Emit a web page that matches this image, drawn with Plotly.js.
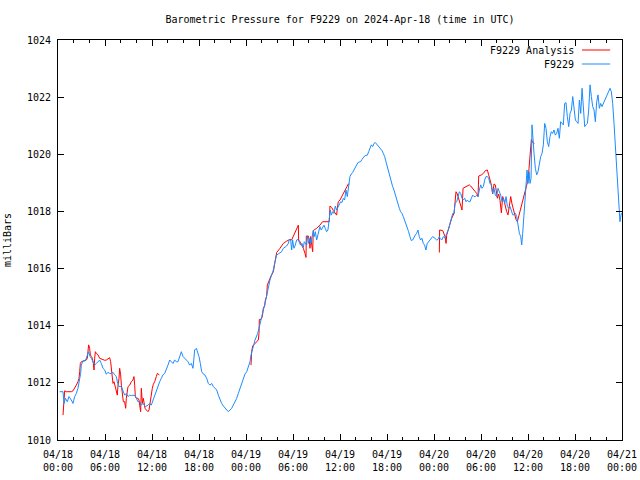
<!DOCTYPE html>
<html>
<head>
<meta charset="utf-8">
<script src="https://cdn.plot.ly/plotly-3.0.1.min.js"></script>
<style>html,body{margin:0;padding:0;background:#fff;}#chart{width:640px;height:480px;}</style>
</head>
<body>
<div id="chart"></div>
<script>
// ---- Data: hours after 2024-04-18 00:00 UTC, pressure in millibars ----
var baseDay = '2024-04-18';

// F9229 Analysis (red), three runs separated by gaps (null)
var analysisHours = [
  0.64,0.85,1.06,1.28,1.49,1.70,1.91,2.13,2.34,2.55,
  2.68,2.77,2.85,2.98,3.40,3.62,3.74,3.83,3.91,4.04,
  4.13,4.26,4.38,4.51,4.60,4.68,4.77,4.89,5.11,5.32,
  5.53,5.74,5.96,6.17,6.38,6.60,6.72,6.81,6.94,7.02,
  7.15,7.32,7.45,7.57,7.66,7.79,7.87,8.00,8.09,8.21,
  8.34,8.51,8.64,8.72,8.85,8.94,9.15,9.36,9.57,9.70,
  9.79,9.87,10.00,10.21,10.34,10.43,10.55,10.64,10.77,10.89,
  10.98,11.11,11.28,11.49,11.62,11.70,11.83,11.91,12.04,12.17,
  12.34,12.55,12.68,12.94,
  null,
  24.64,24.72,24.85,25.15,25.57,25.66,25.70,25.91,26.09,26.21,
  26.38,26.47,26.64,26.72,26.94,27.19,27.49,27.70,27.91,28.34,
  28.76,29.19,29.61,29.83,30.04,30.25,30.46,30.68,30.72,30.89,
  31.10,31.32,31.53,31.66,31.70,31.95,32.08,32.17,32.25,32.38,
  32.51,32.59,33.02,33.44,33.78,34.08,34.63,34.72,34.93,35.15,
  35.40,35.57,35.66,35.78,36.00,36.21,36.42,36.63,36.85,37.06,
  37.19,
  null,
  48.68,48.72,49.11,49.28,49.41,49.54,49.62,49.83,50.05,50.26,
  50.56,50.68,50.81,50.98,51.15,51.32,51.45,51.58,51.71,51.96,
  52.26,52.51,52.68,52.94,53.20,53.45,53.62,53.71,54.05,54.30,
  54.56,54.81,54.98,55.15,55.32,55.49,55.66,55.83,55.91,56.09,
  56.26,56.43,56.60,56.77,56.94,57.11,57.28,57.45,57.62,57.79,
  57.96,58.13,58.30,58.47,58.64,58.81,58.98,59.15,59.32,59.49,
  59.66,59.83,60.00,60.13,60.26,60.34,60.43,60.60,60.81
];
var analysisPressure = [
  1010.87,1011.72,1011.69,1011.69,1011.67,1011.69,1011.72,1011.81,1011.92,1012.04,
  1012.16,1012.39,1012.68,1012.74,1012.77,1012.80,1012.86,1013.15,1013.33,1013.21,
  1012.98,1012.92,1012.86,1012.68,1012.45,1012.86,1013.09,1013.03,1012.98,1012.86,
  1012.84,1012.80,1012.79,1012.80,1012.84,1012.88,1012.74,1012.51,1012.22,1011.98,
  1012.04,1011.81,1011.69,1011.57,1011.92,1012.16,1012.51,1012.28,1011.92,1011.57,
  1011.34,1011.34,1011.11,1011.46,1011.69,1011.87,1011.92,1012.04,1012.10,1012.22,
  1011.92,1011.52,1011.46,1011.46,1011.40,1011.22,1010.99,1011.81,1011.28,1011.46,
  1011.22,1011.11,1011.05,1010.99,1011.05,1011.22,1011.46,1011.63,1011.81,1011.95,
  1012.04,1012.22,1012.33,1012.28,
  null,
  1012.62,1013.09,1013.29,1013.38,1013.50,1013.73,1014.22,1014.22,1014.32,1014.61,
  1014.69,1014.90,1015.04,1015.42,1015.58,1015.74,1015.89,1016.30,1016.56,1016.71,
  1016.88,1016.96,1017.02,1017.00,1017.14,1017.29,1017.41,1017.52,1017.00,1016.94,
  1016.82,1016.71,1016.53,1016.39,1017.14,1017.14,1017.00,1016.71,1017.12,1016.88,
  1016.59,1017.33,1017.41,1017.52,1017.64,1017.64,1017.64,1018.19,1018.14,1018.03,
  1017.93,1017.87,1018.11,1018.34,1018.40,1018.52,1018.61,1018.75,1018.89,1018.96,
  1018.96,
  null,
  1016.56,1017.35,1017.33,1017.17,1017.12,1016.88,1017.17,1017.37,1017.56,1017.76,
  1017.93,1018.28,1018.69,1018.61,1018.46,1018.28,1018.22,1018.05,1018.81,1018.84,
  1018.89,1018.93,1018.89,1018.81,1018.73,1018.63,1018.52,1019.24,1019.28,1019.33,
  1019.43,1019.45,1019.28,1019.10,1018.93,1018.61,1018.96,1018.93,1018.73,1018.46,
  1018.61,1018.38,1017.95,1018.52,1018.38,1018.17,1017.99,1017.88,1018.22,1018.52,
  1018.26,1018.05,1017.84,1017.72,1017.64,1017.82,1017.99,1018.17,1018.34,1018.54,
  1018.73,1018.93,1019.10,1019.51,1019.86,1020.21,1020.52,1020.41,1020.38
];

// F9229 station (blue)
var stationHours = [
  0.21,0.64,0.77,0.94,1.19,1.40,1.70,1.91,2.13,2.34,
  2.55,2.77,2.89,2.98,3.19,3.49,3.74,3.91,4.09,4.26,
  4.47,4.68,4.89,5.11,5.32,5.53,5.74,5.96,6.17,6.38,
  6.60,6.81,7.02,7.23,7.45,7.57,7.79,8.09,8.30,8.51,
  8.72,8.94,9.15,9.36,9.57,9.87,10.00,10.21,10.43,10.64,
  10.85,11.15,11.49,11.70,11.91,12.13,12.34,12.55,12.77,12.98,
  13.19,13.40,13.62,13.83,14.04,14.26,14.47,14.68,14.89,15.11,
  15.32,15.53,15.74,15.96,16.17,16.38,16.60,16.81,17.02,17.23,
  17.45,17.66,
  17.83,18.00,18.17,18.34,18.55,18.77,18.98,19.19,19.40,19.62,
  19.83,20.04,20.26,20.47,20.68,20.89,21.11,21.32,21.53,21.74,
  21.96,22.17,22.38,22.60,22.81,23.02,23.23,23.45,23.66,23.87,
  24.09,24.30,24.51,24.64,24.81,24.98,25.15,25.36,25.49,25.66,
  25.83,26.00,26.21,26.43,26.64,26.85,27.06,27.28,27.49,27.70,
  27.91,28.12,28.34,28.55,28.76,28.97,29.19,29.40,29.53,29.70,
  29.83,29.95,30.12,30.29,30.46,30.63,30.81,30.97,31.15,31.32,
  31.44,31.57,31.74,31.87,32.00,32.17,32.29,32.42,32.59,32.72,
  32.85,33.02,33.15,33.27,33.44,33.61,33.78,33.95,34.12,34.29,
  34.46,34.63,34.76,34.89,35.06,35.23,35.40,35.57,35.74,35.91,
  36.08,36.25,36.42,36.59,36.76,36.93,37.10,37.27,37.44,37.61,
  37.78,37.95,38.12,38.29,38.46,38.63,38.80,38.97,39.14,39.31,
  39.49,39.66,39.83,40.00,40.17,40.34,40.51,40.68,40.85,41.02,
  41.19,41.36,41.53,41.70,41.87,42.04,42.21,42.38,42.55,42.72,
  42.89,43.06,43.23,43.40,43.57,43.74,43.91,44.08,44.25,44.42,
  44.59,44.76,44.93,45.10,45.27,45.44,45.61,45.78,45.95,46.12,
  46.29,46.46,46.63,46.80,46.97,47.14,47.32,47.49,47.66,47.83,
  48.00,48.17,48.34,48.51,48.68,
  48.77,48.98,49.20,49.41,49.62,49.83,50.05,50.26,50.39,50.56,
  50.68,50.90,51.11,51.24,51.41,51.58,51.75,51.92,52.09,52.26,
  52.43,52.60,52.77,52.94,53.11,53.28,53.45,53.62,53.79,53.96,
  54.13,54.30,54.47,54.64,54.81,54.98,55.15,55.32,55.49,55.66,
  55.83,56.00,56.17,56.34,56.51,56.68,56.85,57.03,57.20,57.37,
  57.54,57.71,57.88,58.05,58.22,58.39,58.56,58.73,58.90,59.07,
  59.20,59.32,59.49,59.62,59.75,59.88,60.00,60.13,60.26,60.39,
  60.51,60.64,60.77,60.94,61.11,61.28,61.45,61.62,61.79,61.96,
  62.13,62.30,62.47,62.64,62.81,62.98,63.15,63.32,63.49,63.66,
  63.83,64.00,64.17,64.34,64.51,64.68,64.85,65.02,65.20,65.37,
  65.54,65.71,65.88,66.05,66.22,66.39,66.56,66.73,66.90,67.07,
  67.24,67.41,67.58,67.75,67.92,68.09,68.26,68.43,68.60,68.77,
  68.94,69.11,69.28,69.45,69.62,69.79,69.96,70.13,70.30,70.47,
  70.64,70.81,70.98,71.15,71.32,71.49,71.66,71.74,71.92
];
var stationPressure = [
  1011.69,1011.69,1011.28,1011.46,1011.34,1011.52,1011.40,1011.28,1011.52,1011.63,
  1011.81,1012.10,1012.33,1012.62,1012.77,1012.77,1012.98,1013.09,1012.92,1012.86,
  1012.74,1012.62,1012.68,1012.74,1012.80,1012.68,1012.51,1012.45,1012.30,1012.37,
  1012.33,1012.33,1012.37,1012.28,1012.22,1012.04,1011.87,1011.87,1011.69,1011.57,
  1011.63,1011.52,1011.57,1011.55,1011.57,1011.55,1011.46,1011.34,1011.34,1011.22,
  1011.28,1011.17,1011.22,1011.28,1011.22,1011.40,1011.57,1011.75,1011.92,1012.04,
  1012.16,1012.28,1012.33,1012.45,1012.62,1012.80,1012.74,1012.68,1012.80,1012.74,
  1012.74,1012.92,1013.09,1012.92,1012.86,1012.80,1012.74,1012.62,1012.68,1012.51,
  1013.15,1013.21,
  1013.09,1012.92,1012.68,1012.39,1012.31,1012.27,1012.16,1011.98,1011.92,1011.98,
  1011.87,1011.81,1011.75,1011.57,1011.40,1011.28,1011.19,1011.11,1011.05,1010.99,
  1011.05,1011.11,1011.22,1011.34,1011.46,1011.63,1011.81,1011.98,1012.16,1012.31,
  1012.39,1012.57,1012.74,1012.97,1013.21,1013.32,1013.50,1013.64,1013.73,1013.91,
  1014.14,1014.32,1014.55,1014.78,1015.08,1015.37,1015.60,1015.78,1015.95,1016.24,
  1016.47,1016.51,1016.56,1016.59,1016.71,1016.74,1016.79,1016.88,1017.02,1017.00,
  1016.65,1017.00,1016.71,1016.82,1017.00,1017.02,1016.94,1016.82,1016.88,1016.74,
  1016.94,1016.88,1016.82,1017.14,1016.88,1017.06,1016.88,1017.09,1017.33,1017.12,
  1017.29,1017.00,1017.17,1017.23,1017.47,1017.35,1017.47,1017.52,1017.41,1017.29,
  1017.35,1017.70,1018.05,1017.87,1017.99,1017.93,1018.19,1018.05,1018.14,1018.28,
  1018.34,1018.31,1018.46,1018.40,1018.75,1018.52,1018.98,1019.22,1019.31,1019.36,
  1019.45,1019.54,1019.63,1019.71,1019.73,1019.74,1019.82,1019.89,1019.94,1019.96,
  1019.97,1020.09,1020.21,1020.33,1020.27,1020.38,1020.41,1020.36,1020.29,1020.24,
  1020.21,1020.13,1020.03,1019.92,1019.74,1019.57,1019.39,1019.16,1018.98,1018.87,
  1018.75,1018.57,1018.40,1018.22,1018.11,1017.99,1017.93,1017.82,1017.70,1017.58,
  1017.47,1017.29,1017.12,1016.98,1017.00,1017.12,1017.17,1017.23,1017.35,1017.12,
  1017.00,1017.06,1016.88,1016.82,1016.65,1016.88,1016.94,1017.00,1017.06,1017.12,
  1017.09,1017.06,1017.00,1017.02,1017.12,
  1017.06,1017.00,1017.12,1017.06,1017.23,1017.35,1017.58,1017.82,1017.93,1017.93,
  1018.28,1018.34,1018.57,1018.69,1018.63,1018.46,1018.40,1018.46,1018.34,1018.40,
  1018.34,1018.34,1018.46,1018.57,1018.52,1018.52,1018.57,1018.52,1018.75,1018.93,
  1018.81,1018.87,1019.10,1019.22,1019.22,1019.16,1018.98,1018.93,1018.63,1018.81,
  1018.57,1018.52,1018.81,1018.69,1018.57,1018.34,1018.46,1018.28,1018.52,1018.17,
  1018.11,1018.17,1017.99,1017.88,1017.88,1017.93,1017.82,1017.53,1017.23,1017.12,
  1016.83,1017.23,1017.76,1018.40,1018.93,1019.45,1018.98,1019.39,1018.98,1019.16,
  1021.03,1020.27,1020.03,1019.51,1019.28,1019.39,1019.68,1019.92,1020.03,1020.33,
  1021.08,1020.91,1020.44,1020.27,1020.62,1020.79,1020.73,1020.85,1020.67,1020.73,
  1020.91,1020.56,1021.14,1021.08,1021.03,1021.78,1021.81,1021.32,1020.97,1021.43,
  1021.55,1022.02,1021.49,1021.20,1021.14,1021.08,1021.90,1021.43,1022.31,1021.67,
  1020.97,1021.03,1021.08,1021.55,1022.43,1022.02,1021.67,1021.55,1021.14,1021.84,
  1022.08,1021.61,1021.78,1021.67,1021.78,1021.90,1022.02,1022.13,1022.25,1022.31,
  1022.19,1021.78,1021.08,1020.27,1019.45,1018.52,1017.93,1017.64,1017.95
];

var seriesNames = ['F9229 Analysis', 'F9229'];
var seriesColors = ['#ff0000', '#1a8cff'];
var titleText = 'Barometric Pressure for F9229 on 2024-Apr-18 (time in UTC)';
var yTitle = 'milliBars';

// ---- helpers ----
function pad(n){ return (n < 10 ? '0' : '') + n; }
function toStamp(h){
  if (h === null) return null;
  var ms = Date.UTC(2024, 3, 18) + Math.round(h * 3600000);
  var d = new Date(ms);
  return d.getUTCFullYear() + '-' + pad(d.getUTCMonth()+1) + '-' + pad(d.getUTCDate()) + ' ' +
         pad(d.getUTCHours()) + ':' + pad(d.getUTCMinutes()) + ':' + pad(d.getUTCSeconds());
}

var mono = 'DejaVu Sans Mono, Liberation Mono, monospace';

var traces = [
  { x: analysisHours.map(toStamp), y: analysisPressure, type: 'scatter', mode: 'lines',
    name: seriesNames[0], line: { color: seriesColors[0], width: 1 }, connectgaps: false },
  { x: stationHours.map(toStamp), y: stationPressure, type: 'scatter', mode: 'lines',
    name: seriesNames[1], line: { color: seriesColors[1], width: 1 } }
];

var legendRows = [0.975, 0.94];
var annotations = seriesNames.map(function(n, i){
  return { text: n, xref: 'paper', yref: 'paper', x: 0.918, y: legendRows[i],
           xanchor: 'right', yanchor: 'middle', showarrow: false,
           font: { family: mono, size: 10, color: '#000' } };
});
var shapes = seriesColors.map(function(c, i){
  return { type: 'line', xref: 'paper', yref: 'paper', x0: 0.929, x1: 0.979,
           y0: legendRows[i], y1: legendRows[i], line: { color: c, width: 1 } };
});

var layout = {
  width: 640, height: 480,
  margin: { l: 58, r: 18, t: 40, b: 40, pad: 0 },
  paper_bgcolor: '#fff', plot_bgcolor: '#fff',
  showlegend: false,
  font: { family: mono, size: 10, color: '#000' },
  title: { text: titleText, x: 0.5, xref: 'paper', xanchor: 'center',
           y: 1 - 19/480, yref: 'container', yanchor: 'middle',
           font: { family: mono, size: 10, color: '#000' } },
  xaxis: {
    type: 'date',
    range: [baseDay + ' 00:00', '2024-04-21 00:00'],
    tick0: baseDay + ' 00:00', dtick: 6 * 3600000,
    tickformat: '%m/%d<br>%H:%M',
    ticks: 'inside', ticklen: 6, tickcolor: '#000', tickwidth: 1,
    minor: { dtick: 2 * 3600000, ticks: 'inside', ticklen: 3, tickcolor: '#000' },
    showline: true, linecolor: '#000', linewidth: 1, mirror: 'ticks',
    showgrid: false, zeroline: false, fixedrange: true,
    ticklabelstandoff: 5,
    tickfont: { family: mono, size: 10, color: '#000' }
  },
  yaxis: {
    range: [1010, 1024], dtick: 2, tick0: 1010,
    ticks: 'inside', ticklen: 6, tickcolor: '#000', tickwidth: 1,
    showline: true, linecolor: '#000', linewidth: 1, mirror: 'ticks',
    showgrid: false, zeroline: false, fixedrange: true,
    tickfont: { family: mono, size: 10, color: '#000' },
    ticklabelstandoff: 4,
    title: { text: yTitle, standoff: 13, font: { family: mono, size: 10, color: '#000' } }
  },
  annotations: annotations,
  shapes: shapes
};

Plotly.newPlot('chart', traces, layout, { staticPlot: true, displayModeBar: false });
</script>
</body>
</html>
